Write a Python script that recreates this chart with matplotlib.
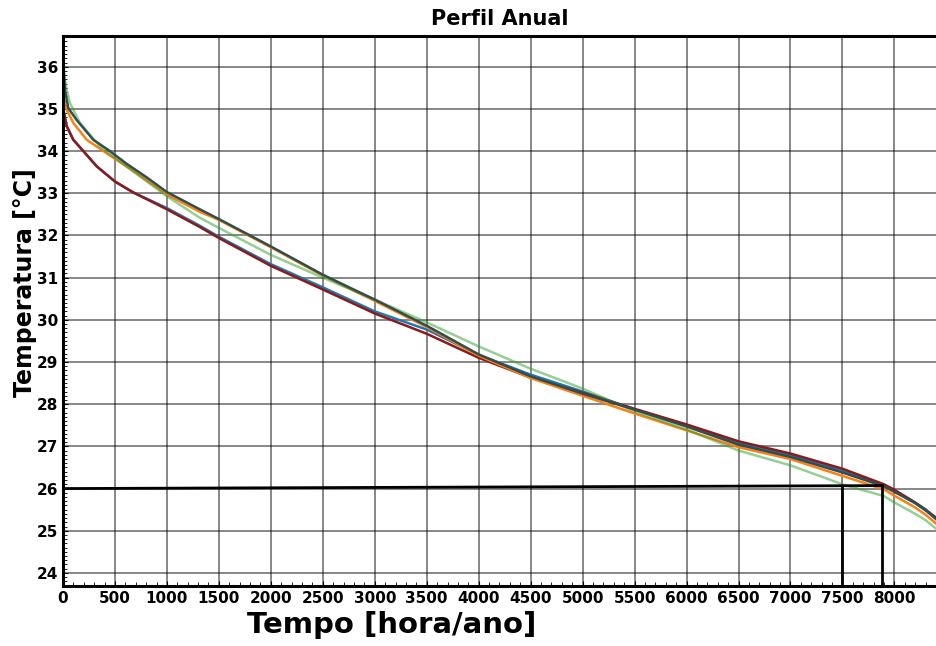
import matplotlib
matplotlib.use("Agg")
import matplotlib.pyplot as plt
from matplotlib.ticker import MultipleLocator

# horas (curva de permanencia) e temperaturas
horas_escuro = [0, 8, 19, 51, 131, 291, 452, 612, 804, 1000, 1317, 1500, 2000, 2500, 3000, 3500,
                4000, 4500, 5000, 5500, 6000, 6500, 7000, 7500, 7900, 8000, 8200, 8300, 8400]
t_escuro = [36.6, 35.9, 35.45, 35.02, 34.74, 34.27, 34.0, 33.7, 33.38, 33.03, 32.62, 32.39, 31.74, 31.07,
            30.48, 29.86, 29.18, 28.66, 28.25, 27.87, 27.47, 27.04, 26.75, 26.38, 26.05, 25.92, 25.66,
            25.5, 25.28]

horas_laranja = [0, 3, 36, 99, 228, 420, 708, 1000, 1317, 1500, 2000, 2500, 3000, 3500,
                 4000, 4500, 5000, 5500, 6000, 6500, 7000, 7500, 7900, 8000, 8200, 8300, 8400]
t_laranja = [35.75, 35.3, 34.98, 34.67, 34.27, 33.95, 33.48, 32.97, 32.56, 32.37, 31.72, 31.05, 30.45,
             29.83, 29.15, 28.62, 28.2, 27.78, 27.38, 26.98, 26.7, 26.3, 25.98, 25.83, 25.55, 25.38,
             25.17]

horas_verde = [0, 10, 36, 67, 163, 356, 484, 740, 1000, 1317, 1500, 2000, 2500, 3000, 3500,
               4000, 4500, 5000, 5500, 6000, 6500, 7000, 7500, 7900, 8000, 8200, 8300, 8400]
t_verde = [36.3, 35.8, 35.45, 35.14, 34.67, 34.11, 33.87, 33.4, 32.93, 32.42, 32.18, 31.54, 31.0,
           30.48, 29.94, 29.37, 28.84, 28.37, 27.83, 27.4, 26.9, 26.55, 26.1, 25.82, 25.67, 25.4,
           25.25, 25.05]

horas_baixo = [0, 3, 36, 99, 196, 324, 500, 676, 1000, 1317, 1500, 2000, 2500, 3000, 3500,
               4000, 4500, 5000, 5500, 6000, 6500, 7000, 7500, 7900, 8000, 8200, 8300, 8400]
t_azul = [35.2, 34.98, 34.59, 34.27, 34.0, 33.64, 33.28, 33.02, 32.65, 32.23, 31.97, 31.32, 30.77,
          30.2, 29.77, 29.17, 28.7, 28.3, 27.88, 27.5, 27.08, 26.79, 26.43, 26.07, 25.94, 25.65,
          25.48, 25.28]
t_vermelho = [35.2, 34.98, 34.59, 34.27, 34.0, 33.64, 33.28, 33.02, 32.62, 32.2, 31.94, 31.28, 30.72,
              30.15, 29.67, 29.1, 28.63, 28.27, 27.89, 27.52, 27.12, 26.83, 26.47, 26.1, 25.97, 25.67,
              25.5, 25.31]

# linha de referencia (26 °C) e cortes
ref_x = [0, 7885]
ref_y = [26.0, 26.07]
corte_1 = 7500
corte_2 = 7885

fig = plt.figure(figsize=(9.36, 6.46), dpi=100)
ax = fig.add_axes([0.0673, 0.0929, 0.9327, 0.8514])

ax.plot(horas_baixo, t_azul, color='#1f77b4', lw=1.8)
ax.plot(horas_baixo, t_vermelho, color='#8b1a1a', lw=1.8)
ax.plot(horas_laranja, t_laranja, color='#ff7f0e', lw=1.8)
ax.plot(horas_verde, t_verde, color='#2ca02c', lw=1.8, alpha=0.5)
ax.plot(horas_escuro, t_escuro, color='#2f4f4f', lw=1.8)

ax.plot(ref_x, ref_y, color='black', lw=2)
ax.plot([corte_1, corte_1], [23.6, 26.065], color='black', lw=2)
ax.plot([corte_2, corte_2], [23.6, 26.07], color='black', lw=2)

ax.set_xlim(0, 8400)
ax.set_ylim(23.69, 36.73)
ax.xaxis.set_major_locator(MultipleLocator(500))
ax.xaxis.set_minor_locator(MultipleLocator(100))
ax.yaxis.set_major_locator(MultipleLocator(1))
ax.yaxis.set_minor_locator(MultipleLocator(0.1))
ax.grid(True, which='major', color='black', alpha=0.55, lw=1.2)
ax.tick_params(which='both', direction='in', labelsize=11)
ax.tick_params(which='minor', length=3)
for lab in ax.get_xticklabels() + ax.get_yticklabels():
    lab.set_fontweight('bold')

for s in ['left', 'bottom', 'top']:
    ax.spines[s].set_linewidth(2.2)
ax.spines['right'].set_visible(False)

ax.set_title('Perfil Anual', fontsize=15, fontweight='bold', pad=8)
ax.set_xlabel('Tempo [hora/ano]', fontsize=21, fontweight='bold')
ax.set_ylabel('Temperatura [°C]', fontsize=17, fontweight='bold')
ax.xaxis.set_label_coords(0.377, -0.045)
ax.yaxis.set_label_coords(-0.03, 0.551)

fig.savefig('out.png', dpi=100)
